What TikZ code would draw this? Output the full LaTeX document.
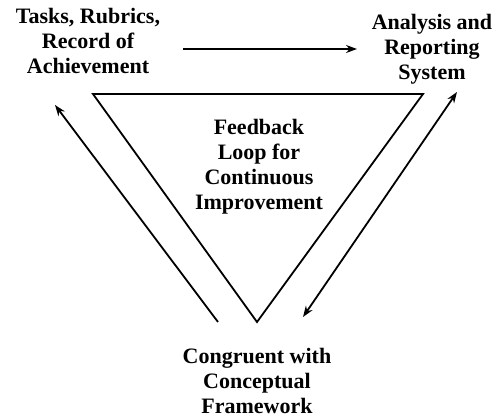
\documentclass[tikz,border=0pt]{standalone}
\usepackage{fontspec}
\setmainfont{Liberation Serif}
\usetikzlibrary{arrows.meta}
\tikzset{
  label/.style={align=center, inner sep=0pt, font=\fontsize{22}{25}\selectfont\bfseries},
  loopline/.style={line width=1.8pt, line join=miter},
  flow/.style={line width=1.8pt, -{Stealth[length=11pt,width=8pt]}},
  twoway/.style={line width=1.8pt, {Stealth[length=11pt,width=8pt]}-{Stealth[length=11pt,width=8pt]}}
}
\begin{document}
\begin{tikzpicture}[x=1pt, y=-1pt]
  \useasboundingbox (0,0) rectangle (495,419);

  % corner labels
  \node[label] (tasks) at (88,41) {Tasks, Rubrics,\\Record of\\Achievement};
  \node[label] (report) at (432,49) {Analysis and\\Reporting\\System};
  \node[label] (frame) at (257,380.5) {Congruent with\\Conceptual\\Framework};

  % inverted triangle of the loop
  \coordinate (tl) at (93,94);
  \coordinate (tr) at (423,94);
  \coordinate (bt) at (257,322);
  \draw[loopline] (tl) -- (tr) -- (bt) -- cycle;
  \node[label] (loop) at (259,166.5) {Feedback\\Loop for\\Continuous\\Improvement};

  % arrows between the stages
  \coordinate (a1s) at (183,49);
  \coordinate (a1e) at (357,49);
  \draw[flow] (a1s) -- (a1e);

  \coordinate (a2s) at (303,317);
  \coordinate (a2e) at (457,92);
  \draw[twoway] (a2s) -- (a2e);

  \coordinate (a3s) at (218,322);
  \coordinate (a3e) at (55,105);
  \draw[flow] (a3s) -- (a3e);
\end{tikzpicture}
\end{document}
